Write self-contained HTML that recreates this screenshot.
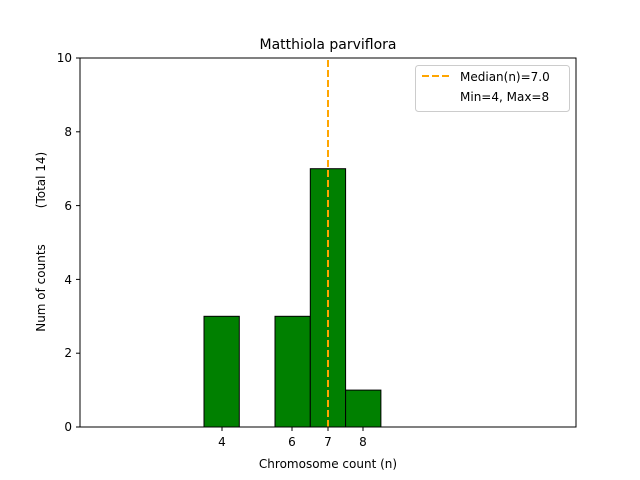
<!DOCTYPE html>
<html><head><style>body{margin:0;background:#fff}svg{display:block}text{font-family:"DejaVu Sans","Liberation Sans",sans-serif;fill:#000}</style></head><body>
<svg width="640" height="480" xmlns="http://www.w3.org/2000/svg">
<rect width="640" height="480" fill="#fff"/>
<g stroke="#000" stroke-width="1">
<rect x="204" y="316.3" width="35.3" height="110.7" fill="#008000"/>
<rect x="275" y="316.3" width="35.3" height="110.7" fill="#008000"/>
<rect x="310.3" y="168.7" width="35.3" height="258.3" fill="#008000"/>
<rect x="345.6" y="390.1" width="35.3" height="36.9" fill="#008000"/>
<line x1="80" y1="427" x2="487" y2="427"/>
</g>
<line x1="328" y1="427" x2="328" y2="58" stroke="#FFA500" stroke-width="2" stroke-dasharray="7,3"/>
<rect x="80" y="58" width="496" height="369" fill="none" stroke="#000" stroke-width="1"/>
<g stroke="#000">
<line x1="222" y1="427" x2="222" y2="431"/><line x1="292" y1="427" x2="292" y2="431"/><line x1="328" y1="427" x2="328" y2="431"/><line x1="363" y1="427" x2="363" y2="431"/>
<line x1="76" y1="427" x2="80" y2="427"/><line x1="76" y1="353.2" x2="80" y2="353.2"/><line x1="76" y1="279.4" x2="80" y2="279.4"/><line x1="76" y1="205.6" x2="80" y2="205.6"/><line x1="76" y1="131.8" x2="80" y2="131.8"/><line x1="76" y1="58" x2="80" y2="58"/>
</g>
<g font-size="12" text-anchor="middle">
<text x="222" y="446">4</text><text x="292" y="446">6</text><text x="328" y="446">7</text><text x="363" y="446">8</text>
<text x="328" y="468">Chromosome count (n)</text>
</g>
<g font-size="12" text-anchor="end">
<text x="72" y="431">0</text><text x="72" y="357">2</text><text x="72" y="284">4</text><text x="72" y="210">6</text><text x="72" y="136">8</text><text x="72" y="62">10</text>
</g>
<g transform="rotate(-90)" font-size="12" text-anchor="middle">
<text x="-288" y="45">Num of counts</text>
<text x="-180" y="45">(Total 14)</text>
</g>
<text x="328" y="49" font-size="14" text-anchor="middle">Matthiola parviflora</text>
<rect x="415.5" y="65.5" width="154" height="46" rx="3" fill="#fff" stroke="#ccc"/>
<line x1="422" y1="76" x2="450" y2="76" stroke="#FFA500" stroke-width="2" stroke-dasharray="7,3"/>
<text x="460" y="81" font-size="12">Median(n)=7.0</text>
<text x="460" y="101" font-size="12">Min=4, Max=8</text>
</svg>
</body></html>
